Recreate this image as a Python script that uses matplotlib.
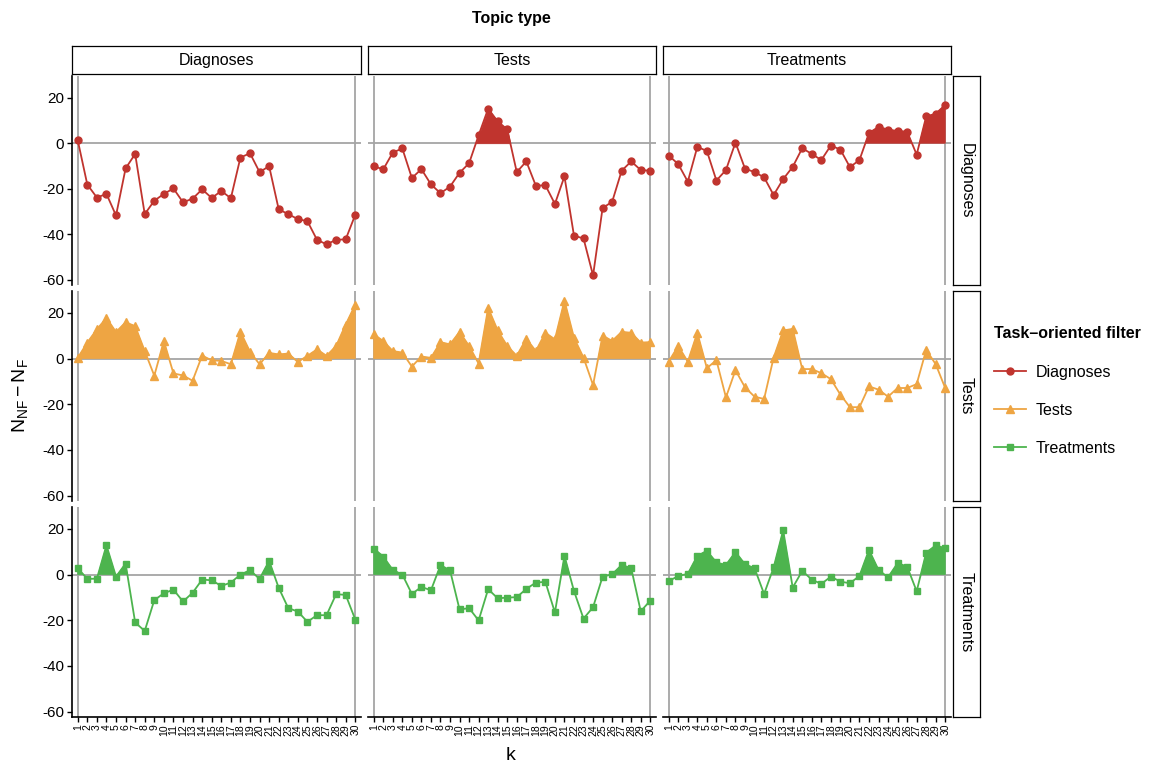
import matplotlib
matplotlib.use('Agg')
import matplotlib.pyplot as plt
from matplotlib.lines import Line2D
import numpy as np

plt.rcParams['font.family'] = ['Liberation Sans', 'DejaVu Sans']
plt.rcParams['axes.unicode_minus'] = False
plt.rcParams['mathtext.fontset'] = 'custom'
plt.rcParams['mathtext.rm'] = 'Liberation Sans'
plt.rcParams['mathtext.it'] = 'Liberation Sans:italic'

# ---------------- data ----------------
k = list(range(1, 31))
topics = ['Diagnoses', 'Tests', 'Treatments']      # columns (Topic type)
filters = ['Diagnoses', 'Tests', 'Treatments']     # rows (Task-oriented filter)

# filter = Diagnoses
fdiag_tdiag = [1.3, -18.2, -23.9, -22.3, -31.8, -11.1, -4.7, -31.2, -25.3, -22.3,
               -19.9, -26.0, -24.4, -20.3, -24.1, -21.0, -24.2, -6.3, -4.4, -12.7,
               -10.1, -29.1, -31.2, -33.4, -34.3, -42.5, -44.5, -42.5, -42.3, -31.5]
fdiag_ttest = [-10.1, -11.5, -4.1, -2.3, -15.3, -11.4, -18.1, -22.0, -19.1, -13.0,
               -8.8, 3.5, 15.2, 9.6, 6.1, -12.7, -8.0, -18.7, -18.5, -26.7,
               -14.6, -40.7, -41.9, -58.2, -28.5, -25.8, -12.1, -8.0, -11.8, -12.1]
fdiag_ttreat = [-5.4, -9.2, -16.9, -1.6, -3.4, -16.4, -11.8, 0.3, -11.2, -12.7,
                -15.0, -22.8, -15.8, -10.4, -2.2, -4.7, -7.4, -1.0, -2.8, -10.5,
                -7.4, 4.5, 7.2, 6.0, 5.4, 5.1, -5.0, 11.8, 13.0, 16.9]
# filter = Tests
ftest_tdiag = [0.3, 7.0, 12.8, 17.8, 11.6, 15.9, 14.2, 3.3, -7.5, 7.7,
               -6.5, -7.4, -9.7, 1.3, -0.8, -1.0, -2.5, 11.7, 3.0, -2.5,
               2.5, 1.8, 2.2, -1.5, 1.2, 4.0, 1.2, 5.5, 14.9, 23.6]
ftest_ttest = [10.6, 7.7, 3.3, 2.6, -3.5, 0.9, 0.3, 7.2, 6.2, 11.7,
               5.5, -2.2, 22.2, 12.3, 5.5, 1.2, 8.7, 3.3, 11.3, 8.4,
               25.4, 9.1, 0.4, -11.6, 10.1, 7.7, 11.7, 11.3, 7.0, 7.2]
ftest_ttreat = [-1.3, 5.5, -1.4, 11.3, -4.2, -0.7, -17.0, -5.1, -12.6, -16.7,
                -17.7, 0.4, 12.3, 13.0, -4.6, -4.6, -6.4, -9.0, -15.8, -21.3,
                -21.3, -12.2, -13.6, -16.7, -12.9, -12.9, -11.2, 3.8, -2.5, -13.0]
# filter = Treatments
ftreat_tdiag = [2.8, -1.9, -1.8, 12.8, -0.9, 4.8, -21.0, -24.7, -11.2, -8.2,
                -6.6, -11.8, -8.0, -2.2, -2.5, -5.0, -3.5, 0.0, 1.9, -1.9,
                6.0, -5.8, -14.7, -16.2, -20.7, -17.8, -17.8, -8.6, -8.9, -19.7]
ftreat_ttest = [11.4, 7.9, 2.0, 0.0, -8.5, -5.4, -6.9, 4.1, 1.9, -15.3,
                -14.7, -20.1, -6.4, -10.4, -10.1, -9.9, -6.3, -3.5, -3.2, -16.6,
                8.2, -7.2, -19.3, -14.3, -0.9, 0.1, 4.2, 2.8, -16.1, -11.4]
ftreat_ttreat = [-2.9, -0.6, 0.3, 8.2, 10.4, 5.3, 4.2, 9.9, 4.5, 2.8,
                 -8.5, 3.1, 19.4, -5.7, 1.6, -2.2, -4.1, -0.9, -3.1, -3.8,
                 -0.6, 10.8, 2.0, -1.2, 5.0, 3.5, -7.3, 9.6, 12.8, 11.5]

data = {
    'Diagnoses': {'Diagnoses': fdiag_tdiag, 'Tests': fdiag_ttest, 'Treatments': fdiag_ttreat},
    'Tests': {'Diagnoses': ftest_tdiag, 'Tests': ftest_ttest, 'Treatments': ftest_ttreat},
    'Treatments': {'Diagnoses': ftreat_tdiag, 'Tests': ftreat_ttest, 'Treatments': ftreat_ttreat},
}

colors = {'Diagnoses': '#C0342E', 'Tests': '#EEA543', 'Treatments': '#4DB44E'}
markers = {'Diagnoses': 'o', 'Tests': '^', 'Treatments': 's'}
msizes = {'Diagnoses': 5.0, 'Tests': 6.0, 'Treatments': 4.8}

# ---------------- layout ----------------
W, H = 1151, 764
fig = plt.figure(figsize=(W / 100, H / 100), dpi=100)


def fx(x):
    return x / W


def fy(y):
    return 1 - y / H


cols_px = [(72, 361), (368, 656), (663, 951)]
rows_px = [(76, 285), (291, 501), (507, 717)]
GRAY = '#A5A5A5'

kk = np.array(k)
for r, filt in enumerate(filters):
    for c, top in enumerate(topics):
        x0, x1 = cols_px[c]
        y0, y1 = rows_px[r]
        ax = fig.add_axes([fx(x0), fy(y1), (x1 - x0) / W, (y1 - y0) / H])
        y = np.array(data[filt][top], dtype=float)
        col = colors[filt]
        ax.axhline(0, color=GRAY, lw=1.3, zorder=1)
        ax.axvline(1, color=GRAY, lw=1.3, zorder=1)
        ax.axvline(30, color=GRAY, lw=1.3, zorder=1)
        ax.fill_between(kk, y, 0, where=y > 0, interpolate=True, color=col,
                        lw=0.5, zorder=2)
        ax.plot(kk, y, color=col, lw=1.3, marker=markers[filt], ms=msizes[filt],
                mec=col, mfc=col, zorder=3, clip_on=False)
        ax.set_xlim(0.4, 30.6)
        ax.set_ylim(-62.4, 29.6)
        for s in ax.spines.values():
            s.set_visible(False)
        ax.set_facecolor('none')
        if c == 0:
            ax.spines['left'].set_visible(True)
            ax.spines['left'].set_color('black')
            ax.spines['left'].set_linewidth(1.2)
            ax.set_yticks([-60, -40, -20, 0, 20])
            ax.tick_params(axis='y', direction='out', length=3.5, width=1.0,
                           labelsize=11, colors='black', pad=2)
        else:
            ax.set_yticks([])
        if r == 2:
            ax.spines['bottom'].set_visible(True)
            ax.spines['bottom'].set_color('black')
            ax.spines['bottom'].set_linewidth(1.2)
            ax.set_xticks(k)
            ax.set_xticklabels([str(v) for v in k], rotation=90, fontsize=7.5)
            ax.tick_params(axis='x', direction='out', length=3.5, width=1.0,
                           colors='black', pad=1.5)
        else:
            ax.set_xticks([])

# top strips
for c, top in enumerate(topics):
    x0, x1 = cols_px[c]
    sax = fig.add_axes([fx(x0), fy(74), (x1 - x0) / W, 28 / H])
    sax.set_xticks([])
    sax.set_yticks([])
    for s in sax.spines.values():
        s.set_linewidth(0.9)
        s.set_color('black')
    sax.text(0.5, 0.48, top, ha='center', va='center', fontsize=11.5,
             transform=sax.transAxes)

# right strips
for r, filt in enumerate(filters):
    y0, y1 = rows_px[r]
    sax = fig.add_axes([fx(953), fy(y1), 27 / W, (y1 - y0) / H])
    sax.set_xticks([])
    sax.set_yticks([])
    for s in sax.spines.values():
        s.set_linewidth(0.9)
        s.set_color('black')
    sax.text(0.5, 0.5, filt, ha='center', va='center', fontsize=11.5,
             rotation=270, transform=sax.transAxes)

fig.text(fx(511), fy(18), 'Topic type', ha='center', va='center',
         fontsize=11.5, fontweight='bold')
fig.text(fx(511), fy(756), 'k', ha='center', va='center', fontsize=14)
fig.text(fx(20), fy(396), r'$\mathregular{N_{NF} - N_{F}}$', ha='center',
         va='center', rotation=90, fontsize=14)

handles = [Line2D([], [], color=colors[f], marker=markers[f], ms=msizes[f], lw=1.3)
           for f in filters]
fig.legend(handles, filters, title='Task\u2013oriented filter', loc='upper left',
           bbox_to_anchor=(fx(980), fy(312)), frameon=False, fontsize=11.5,
           title_fontproperties={'weight': 'bold', 'size': 11.5},
           labelspacing=1.45, handlelength=2.0, handletextpad=0.6,
           alignment='left')

fig.savefig('out.png', dpi=100)
